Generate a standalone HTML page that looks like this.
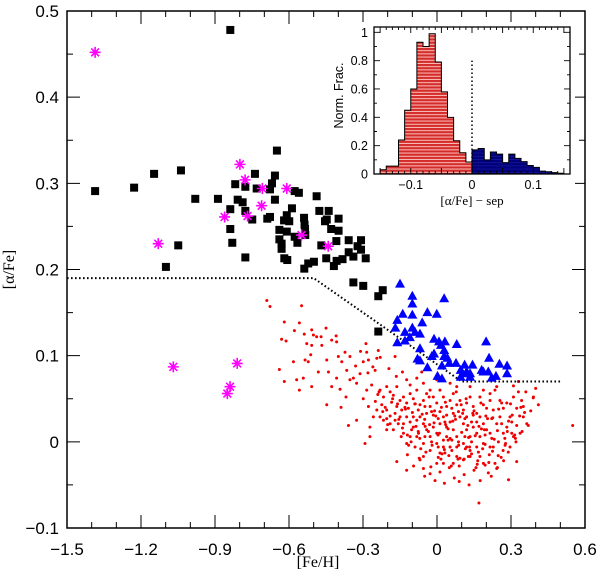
<!DOCTYPE html>
<html><head><meta charset="utf-8">
<style>
html,body{margin:0;padding:0;background:#fff;}
svg{display:block;}
</style></head>
<body>
<svg id="chart" width="600" height="574" xmlns="http://www.w3.org/2000/svg">
<defs>
<pattern id="redHatch" patternUnits="userSpaceOnUse" width="6" height="3.2">
<rect width="6" height="3.2" fill="#d42b2b"/>
<rect y="2.2" width="6" height="0.9" fill="#ffd0c8"/>
</pattern>
<pattern id="blueHatch" patternUnits="userSpaceOnUse" width="6" height="3.2">
<rect width="6" height="3.2" fill="#00007a"/>
<rect y="2.3" width="6" height="0.7" fill="#1a1aa0"/>
</pattern>
</defs>
<g id="main"></g>
<g id="inset"></g>
</svg>
<script>
// ---------- main scatter data ----------
const xTicks = [-1.5, -1.2, -0.9, -0.6, -0.3, 0, 0.3, 0.6];
const xTickLabels = ["\u22121.5","\u22121.2","\u22120.9","\u22120.6","\u22120.3","0","0.3","0.6"];
const yTicks = [-0.1, 0, 0.1, 0.2, 0.3, 0.4, 0.5];
const yTickLabels = ["\u22120.1","0","0.1","0.2","0.3","0.4","0.5"];

const blackX = [-0.838,-1.386,-1.228,-1.147,-1.038,-0.980,-0.888,-1.099,-1.049,-0.838,-0.838,-0.830,-0.818,-0.808,-0.788,-0.777,-0.777,-0.777,-0.749,-0.738,-0.731,-0.688,-0.677,-0.677,-0.669,-0.657,-0.657,-0.649,-0.639,-0.639,-0.630,-0.630,-0.620,-0.609,-0.609,-0.599,-0.619,-0.607,-0.588,-0.577,-0.560,-0.577,-0.566,-0.539,-0.537,-0.535,-0.534,-0.538,-0.522,-0.499,-0.488,-0.477,-0.439,-0.454,-0.447,-0.399,-0.429,-0.399,-0.408,-0.469,-0.449,-0.418,-0.407,-0.383,-0.358,-0.358,-0.339,-0.322,-0.308,-0.308,-0.289,-0.339,-0.299,-0.238,-0.220,-0.238];
const blackY = [0.478,0.291,0.295,0.311,0.315,0.282,0.282,0.203,0.228,0.270,0.247,0.231,0.299,0.281,0.278,0.296,0.268,0.214,0.258,0.311,0.294,0.259,0.261,0.293,0.300,0.309,0.281,0.338,0.246,0.235,0.230,0.224,0.257,0.263,0.244,0.256,0.213,0.211,0.271,0.291,0.289,0.238,0.231,0.260,0.252,0.247,0.240,0.201,0.207,0.209,0.285,0.268,0.268,0.256,0.258,0.259,0.247,0.245,0.233,0.228,0.213,0.204,0.210,0.212,0.234,0.220,0.215,0.227,0.234,0.223,0.213,0.185,0.181,0.169,0.176,0.128];

const magX = [-1.386,-1.130,-0.799,-0.778,-0.708,-0.609,-0.711,-0.861,-0.768,-0.549,-0.441,-1.069,-0.810,-0.839,-0.850];
const magY = [0.452,0.230,0.322,0.304,0.294,0.294,0.274,0.261,0.262,0.240,0.227,0.087,0.091,0.064,0.056];

const blueX = [-0.150,-0.100,-0.100,0.029,-0.139,-0.039,-0.001,-0.161,-0.100,-0.060,-0.169,-0.130,-0.100,-0.089,-0.069,-0.110,-0.161,-0.130,-0.012,0.008,0.032,0.080,0.199,-0.069,0.016,0.029,-0.012,-0.021,0.029,0.042,-0.079,-0.069,0.211,0.050,0.020,0.077,-0.039,0.112,0.144,0.253,0.284,0.096,0.120,0.134,0.104,0.181,0.188,0.208,0.284,0.002,0.096,0.239,0.222,0.020,0.134];
const blueY = [0.183,0.169,0.160,0.166,0.148,0.150,0.148,0.141,0.147,0.138,0.132,0.127,0.132,0.127,0.125,0.121,0.115,0.117,0.119,0.116,0.116,0.113,0.116,0.108,0.112,0.106,0.102,0.099,0.099,0.097,0.096,0.094,0.097,0.091,0.088,0.091,0.086,0.089,0.089,0.090,0.088,0.083,0.081,0.079,0.079,0.083,0.081,0.081,0.079,0.076,0.075,0.076,0.074,0.073,0.075];

const redX = [-0.690,-0.677,-0.549,-0.619,-0.558,-0.578,-0.538,-0.508,-0.450,-0.630,-0.612,-0.528,-0.501,-0.488,-0.470,-0.467,-0.427,-0.409,-0.407,-0.508,-0.582,-0.639,-0.619,-0.558,-0.569,-0.542,-0.508,-0.535,-0.522,-0.512,-0.481,-0.447,-0.440,-0.427,-0.400,-0.386,-0.373,-0.353,-0.366,-0.407,-0.393,-0.369,-0.447,-0.389,-0.359,-0.353,-0.339,-0.326,-0.312,-0.299,-0.288,-0.285,-0.278,-0.244,-0.238,-0.251,-0.285,-0.299,-0.278,-0.292,-0.272,-0.326,
-0.231,-0.217,-0.204,-0.190,-0.177,-0.224,-0.204,-0.184,-0.163,-0.150,-0.136,-0.123,-0.109,-0.096,-0.082,-0.069,-0.055,-0.042,-0.028,-0.015,-0.001,0.012,0.026,0.039,0.053,0.066,0.080,0.093,0.107,0.120,0.134,0.147,0.161,0.174,0.188,0.201,0.215,0.228,0.242,0.255,0.269,0.283,0.296,0.310,0.323,0.330,0.343,0.350,0.391,0.411,0.364,0.337,0.310,0.296,0.323,0.289,0.269,0.249,0.228,0.215,0.188,0.174,0.161,0.174,0.188,0.208,0.242,0.235,0.120,0.127,0.107,0.080,0.066,0.053,0.039,0.026,0.012,-0.001,-0.028,-0.055,-0.069,-0.089,-0.109,-0.123,-0.136,-0.157,-0.163,-0.123,-0.177,-0.190,-0.204,-0.217,-0.231,-0.244,-0.258,-0.272,
-0.096,-0.082,-0.069,-0.055,-0.042,-0.028,-0.015,-0.001,0.012,0.026,0.039,0.053,0.066,0.080,0.093,0.107,0.120,0.134,0.147,0.161,0.201,0.242,0.255,0.283,0.303,0.323,0.350,0.370,-0.082,-0.055,-0.028,-0.001,0.026,0.053,0.080,0.107,0.134,0.161,0.188,0.215,-0.150,-0.136,-0.123,-0.109,-0.096,-0.170,-0.204,-0.042,-0.015,0.012,0.039,0.066,0.120,0.147,0.174,0.222,0.262,0.188,0.215,0.235,0.134,0.080,0.053,-0.001,-0.055,-0.082,-0.123,-0.163,-0.109,-0.062,-0.028,0.550,0.170,-0.170,
-0.143,-0.116,-0.076,-0.049,-0.022,0.005,0.032,0.060,0.087,0.113,0.140,-0.103,-0.076,-0.049,-0.022,0.005,0.032,0.060,0.087,0.113,0.140,0.168,0.195,0.222,0.276,0.303,-0.055,0.026,0.093,0.134,
-0.25,-0.21,-0.19,-0.16,-0.14,-0.12,-0.10,-0.085,-0.07,-0.05,-0.035,-0.02,-0.005,0.01,0.02,0.035,0.045,0.06,0.075,0.085,0.10,0.115,0.125,0.14,0.155,0.165,0.18,0.195,0.205,0.225,0.245,0.26,0.275,0.29,0.315,0.335,0.355,
-0.24,-0.22,-0.18,-0.155,-0.13,-0.115,-0.09,-0.075,-0.06,-0.045,-0.03,-0.01,0.005,0.018,0.03,0.045,0.058,0.072,0.088,0.098,0.11,0.128,0.145,0.158,0.17,0.185,0.198,0.212,0.232,0.25,0.268,0.285,0.305,0.32,0.345,
-0.265,-0.235,-0.2,-0.17,-0.145,-0.128,-0.105,-0.088,-0.066,-0.048,-0.032,-0.012,0.004,0.016,0.034,0.048,0.064,0.078,0.09,0.104,0.118,0.132,0.15,0.163,0.178,0.192,0.21,0.226,0.248,0.262,0.278,0.298,0.318,0.34,
-0.12,-0.095,-0.072,-0.05,-0.025,-0.008,0.012,0.03,0.05,0.07,0.09,0.11,0.13,0.15,0.175,0.195,0.22,0.245,0.27,0.29,
-0.33,-0.31,-0.28,-0.26,-0.23,-0.195,-0.165,-0.14,0.31,0.33,0.36,0.38,0.40,0.39];
const redY = [0.164,0.157,0.158,0.139,0.138,0.129,0.125,0.130,0.132,0.119,0.117,0.114,0.124,0.122,0.122,0.112,0.118,0.123,0.116,0.112,0.093,0.084,0.070,0.060,0.072,0.074,0.064,0.095,0.093,0.101,0.081,0.095,0.081,0.064,0.099,0.093,0.104,0.099,0.083,0.074,0.061,0.052,0.043,0.040,0.019,0.072,0.074,0.068,0.079,0.093,0.114,0.104,0.095,0.097,0.106,0.083,0.060,0.050,0.041,-0.002,0.006,0.025,
0.060,0.052,0.064,0.058,0.054,0.043,0.037,0.046,0.041,0.048,0.052,0.045,0.056,0.050,0.060,0.043,0.048,0.056,0.041,0.052,0.045,0.060,0.052,0.041,0.048,0.056,0.043,0.048,0.037,0.045,0.052,0.041,0.033,0.052,0.043,0.039,0.048,0.037,0.064,0.048,0.039,0.045,0.029,0.052,0.039,0.058,0.048,0.041,0.052,0.043,0.021,0.010,0.006,-0.006,-0.023,-0.012,0.010,0.000,-0.006,0.010,0.021,0.006,-0.006,-0.017,-0.025,-0.036,-0.031,-0.025,-0.006,-0.017,-0.021,-0.017,-0.025,-0.006,0.006,-0.006,-0.013,-0.025,-0.037,-0.031,-0.021,-0.006,0.006,-0.002,0.010,0.021,-0.023,-0.033,0.014,0.021,0.014,0.025,0.029,0.037,0.029,0.017,
0.017,0.025,0.029,0.021,0.014,0.006,0.017,0.010,0.021,0.029,0.017,0.023,0.014,0.006,0.029,0.021,0.014,0.006,0.017,0.023,0.014,0.021,0.029,0.017,0.023,0.019,0.029,0.019,0.006,-0.002,-0.010,-0.002,0.002,0.004,-0.006,-0.002,-0.010,0.010,-0.002,-0.006,0.029,0.021,0.029,0.023,0.029,0.033,0.027,0.033,0.031,0.035,0.031,0.033,0.029,0.031,0.029,0.027,0.021,0.060,0.056,0.060,0.064,0.064,0.068,0.072,0.068,0.074,0.072,0.064,0.066,0.081,0.060,0.019,-0.071,0.099,
0.037,0.039,0.037,0.041,0.035,0.027,0.023,0.039,0.035,0.027,0.023,0.014,0.012,0.006,0.000,-0.006,-0.013,0.002,0.000,0.006,0.000,-0.012,0.008,0.004,-0.004,0.010,-0.017,-0.025,-0.019,-0.017,
0.047,0.040,0.030,0.044,0.016,0.008,0.034,0.018,0.004,0.026,0.012,-0.004,0.030,0.010,-0.014,0.020,0.002,-0.010,0.026,-0.020,0.011,-0.008,0.019,-0.014,0.007,-0.022,0.015,-0.003,0.027,-0.011,0.013,-0.018,0.004,0.024,0.008,0.030,0.034,
0.055,0.035,0.050,0.026,0.040,-0.004,0.044,0.010,0.032,-0.012,0.020,0.036,-0.018,0.040,-0.009,0.015,-0.028,0.030,-0.004,0.043,-0.020,0.005,0.033,-0.030,0.018,-0.008,0.030,-0.015,0.003,0.038,-0.010,0.012,0.031,0.000,0.012,
0.066,0.058,0.020,0.025,0.006,0.038,0.000,0.044,-0.008,0.018,0.052,0.022,0.008,-0.020,0.046,-0.016,0.024,0.058,-0.028,0.033,0.050,-0.006,0.036,-0.026,0.045,0.014,-0.024,0.028,-0.016,0.045,-0.002,0.044,0.004,0.040,
-0.015,-0.028,-0.019,-0.040,-0.029,-0.045,-0.035,-0.048,-0.030,-0.042,-0.046,-0.038,-0.050,-0.033,-0.045,-0.027,-0.040,-0.030,-0.022,-0.044,
0.088,0.105,0.080,0.087,0.098,0.085,0.076,0.081,0.065,0.070,0.058,0.036,0.062,0.051];

const sepX = [-1.5, -0.5, 0.1, 0.5];
const sepY = [0.19, 0.19, 0.07, 0.07];

// ---------- inset histogram data ----------
const redBinStart = [-0.15,-0.14,-0.13,-0.12,-0.11,-0.10,-0.09,-0.08,-0.07,-0.06,-0.05,-0.04,-0.03,-0.02,-0.01];
const redBinFrac  = [0.03,0.056,0.056,0.24,0.45,0.60,0.93,0.90,0.99,0.79,0.58,0.40,0.235,0.15,0.085];
const blueBinStart = [0.00,0.01,0.02,0.03,0.04,0.05,0.06,0.07,0.08,0.09,0.10,0.11,0.12,0.13,0.14];
const blueBinFrac  = [0.17,0.18,0.10,0.155,0.14,0.08,0.14,0.11,0.087,0.06,0.047,0.02,0.016,0.01,0.005];
const insetXTicks = [-0.1, 0, 0.1];
const insetXTickLabels = ["\u22120.1","0","0.1"];
const insetYTicks = [0, 0.2, 0.4, 0.6, 0.8, 1];
const insetYTickLabels = ["0","0.2","0.4","0.6","0.8","1"];

const NS = "http://www.w3.org/2000/svg";
function mk(tag, attrs, parent){ const e=document.createElementNS(NS,tag); for(const k in attrs) e.setAttribute(k,attrs[k]); parent.appendChild(e); return e; }

// main axes
const L=67,R=585,T=11,B=528;
const X0=-1.5,X1=0.6,Y0=-0.1,Y1=0.5;
const sx=v=>L+(v-X0)/(X1-X0)*(R-L);
const sy=v=>B-(v-Y0)/(Y1-Y0)*(B-T);
const main=document.getElementById('main');

const gRed=mk('g',{},main);


for(let i=0;i<redX.length;i++){
  const c=mk('circle',{cx:sx(redX[i]),cy:sy(redY[i]),r:1.5,fill:'#f00000'},gRed);
  
  
}
const sep=mk('polyline',{points:sepX.map((v,i)=>sx(v)+','+sy(sepY[i])).join(' '),fill:'none',stroke:'#000','stroke-width':2,'stroke-dasharray':'1.6 2.4'},main);


const gBlk=mk('g',{},main);


for(let i=0;i<blackX.length;i++){
  const r=mk('rect',{x:sx(blackX[i])-4,y:sy(blackY[i])-4,width:8,height:8,fill:'#000'},gBlk);
  
  
}
const gBlu=mk('g',{},main);


for(let i=0;i<blueX.length;i++){
  const x=sx(blueX[i]),y=sy(blueY[i]);
  const p=mk('polygon',{points:`${x},${y-5.5} ${x-5},${y+3.5} ${x+5},${y+3.5}`,fill:'#0000ff'},gBlu);
  
  
}
const gMag=mk('g',{},main);


for(let i=0;i<magX.length;i++){
  const x=sx(magX[i]),y=sy(magY[i]);
  let d='';
  for(let k=0;k<4;k++){const a=k*Math.PI/4;const dx=5.5*Math.cos(a),dy=5.5*Math.sin(a);d+=`M${x-dx},${y-dy}L${x+dx},${y+dy}`;}
  const p=mk('path',{d:d,stroke:'#ff00ff','stroke-width':1.6,fill:'none'},gMag);
  
  
}
const frame=mk('rect',{x:L,y:T,width:R-L,height:B-T,fill:'none',stroke:'#000','stroke-width':1.5},main);


let td='';
for(let v=-1.5;v<=0.6001;v+=0.1){const x=sx(v);const maj=Math.abs(Math.round(v*10)%3)===0;const len=maj?13:6;td+=`M${x},${B}v${-len}M${x},${T}v${len}`;}
for(let v=-0.1;v<=0.5001;v+=0.05){const y=sy(v);const maj=Math.abs(Math.round(v*100)%10)===0;const len=maj?13:6;td+=`M${L},${y}h${len}M${R},${y}h${-len}`;}
const ticks=mk('path',{d:td,stroke:'#000','stroke-width':1},main);


xTicks.forEach((v,i)=>{
  const t=mk('text',{x:sx(v),y:B+27,'text-anchor':'middle','font-family':'Liberation Sans, sans-serif','font-size':17,fill:'#000'},main);
  t.textContent=xTickLabels[i];
  
  
});
yTicks.forEach((v,i)=>{
  const t=mk('text',{x:L-8,y:sy(v)+6,'text-anchor':'end','font-family':'Liberation Sans, sans-serif','font-size':17,fill:'#000'},main);
  t.textContent=yTickLabels[i];
  
  
});
const xt=mk('text',{x:318,y:567,'text-anchor':'middle','font-family':'Liberation Serif, serif','font-size':16,fill:'#000'},main);
xt.textContent='[Fe/H]';


const yt=mk('text',{x:0,y:0,transform:`translate(14,${(T+B)/2}) rotate(-90)`,'text-anchor':'middle','font-family':'Liberation Serif, serif','font-size':16,fill:'#000'},main);
yt.textContent='[\u03b1/Fe]';



// ---------- inset ----------
const iL=374,iR=570,iT=27,iB=174;
const iX0=-0.16,iX1=0.16;
const isx=v=>iL+(v-iX0)/(iX1-iX0)*(iR-iL);
const isy=v=>iB-v*141.7;
const inset=document.getElementById('inset');
mk('rect',{x:iL-40,y:iT-5,width:iR-iL+45,height:iB-iT+35,fill:'#fff'},inset);
function drawHist(starts,vals,fill,name){
  const g=mk('g',{},inset);
  
  
  let d=`M${isx(starts[0])},${iB}`;
  for(let i=0;i<starts.length;i++){
    const x0=isx(starts[i]),x1=isx(starts[i]+0.01),y=isy(vals[i]);
    const r=mk('rect',{x:x0,y:y,width:x1-x0+0.3,height:iB-y,fill:fill},g);
    
    
    d+=`L${x0},${y}L${x1},${y}`;
  }
  d+=`L${isx(starts[starts.length-1]+0.01)},${iB}`;
  mk('path',{d:d,fill:'none',stroke:'#000','stroke-width':1},g);
}
drawHist(redBinStart,redBinFrac,'url(#redHatch)','red-histogram');
drawHist(blueBinStart,blueBinFrac,'url(#blueHatch)','blue-histogram');
const zl=mk('line',{x1:isx(0),y1:isy(0),x2:isx(0),y2:isy(0.8),stroke:'#000','stroke-width':1.5,'stroke-dasharray':'1.5 2.5'},inset);


const iframe=mk('rect',{x:iL,y:iT,width:iR-iL,height:iB-iT,fill:'none',stroke:'#000','stroke-width':1.3},inset);


let itd='';
for(let k=-15;k<=15;k++){const x=isx(k*0.01);const len=(k%5===0)?6:3;itd+=`M${x},${iB}v${-len}M${x},${iT}v${len}`;}
for(let k=0;k<=10;k++){const y=isy(k*0.1);if(y<iT)continue;const len=(k%2===0)?6:3;itd+=`M${iL},${y}h${len}M${iR},${y}h${-len}`;}
const itk=mk('path',{d:itd,stroke:'#000','stroke-width':0.9},inset);


insetXTicks.forEach((v,i)=>{
  const t=mk('text',{x:isx(v),y:iB+15,'text-anchor':'middle','font-family':'Liberation Sans, sans-serif','font-size':12.5,fill:'#000'},inset);
  t.textContent=insetXTickLabels[i];
  
  
});
insetYTicks.forEach((v,i)=>{
  const t=mk('text',{x:iL-6,y:isy(v)+4.5,'text-anchor':'end','font-family':'Liberation Sans, sans-serif','font-size':12.5,fill:'#000'},inset);
  t.textContent=insetYTickLabels[i];
  
  
});
const ixt=mk('text',{x:isx(0),y:iB+31,'text-anchor':'middle','font-family':'Liberation Serif, serif','font-size':13,fill:'#000'},inset);
ixt.textContent='[\u03b1/Fe] \u2212 sep';


const iyt=mk('text',{x:0,y:0,transform:`translate(343,${(iT+iB)/2-5}) rotate(-90)`,'text-anchor':'middle','font-family':'Liberation Sans, sans-serif','font-size':12.5,fill:'#000'},inset);
iyt.textContent='Norm.  Frac.';


</script>
</body></html>
